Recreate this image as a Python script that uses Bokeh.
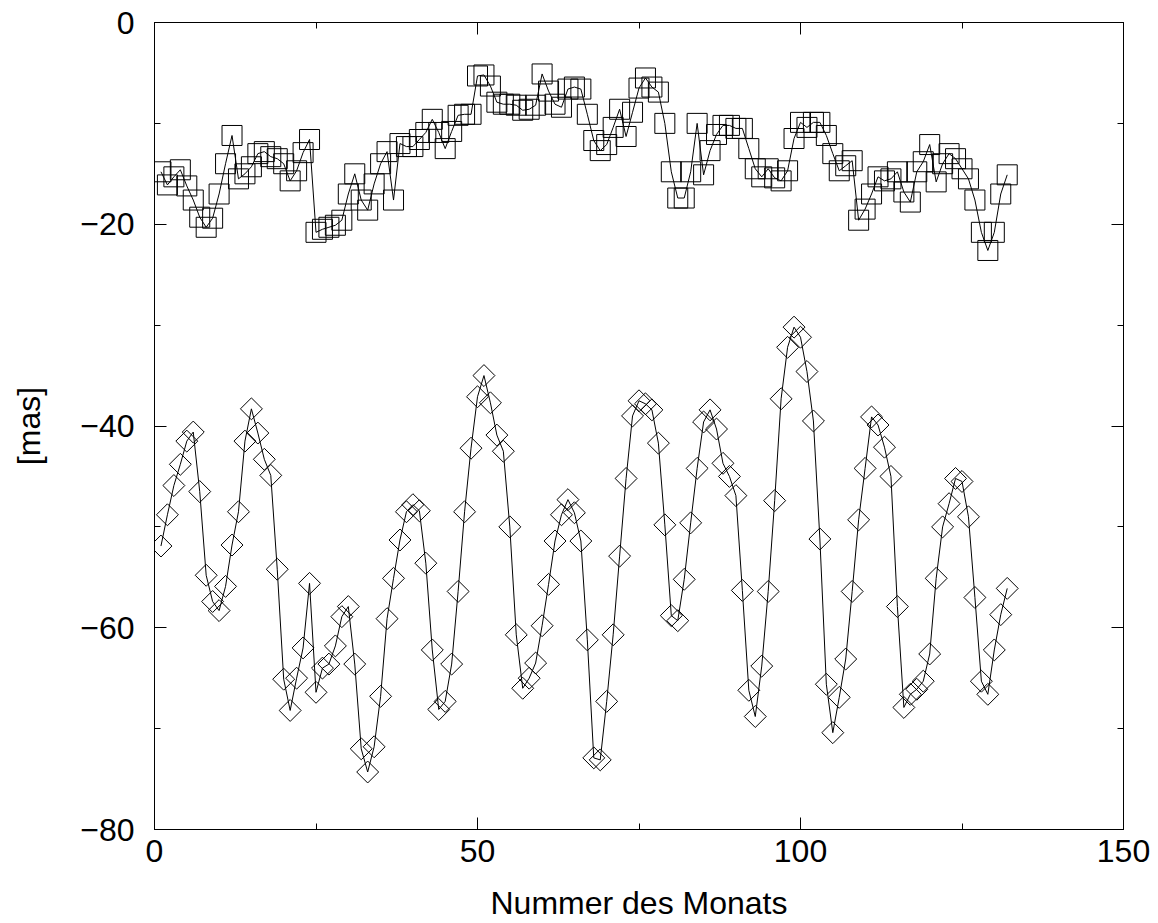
import math
from bokeh.plotting import figure
from bokeh.models import Range1d, FixedTicker, LinearAxis, CustomJSTickFormatter
from bokeh.embed import file_html
from bokeh.resources import INLINE

# ---------------- data ----------------
months = list(range(1, 133))

upper_series = [
    -14.8, -16.1, -15.3, -14.6, -16.2, -17.6, -19.3, -20.3, -19.4, -17.0,
    -14.0, -11.2, -15.5, -15.0, -14.3, -13.0, -12.8, -13.3, -13.5, -14.0,
    -15.7, -14.7, -12.9, -11.6, -20.8, -20.5, -20.3, -20.1, -19.6, -17.0,
    -15.0, -17.6, -18.6, -16.0, -14.0, -12.8, -17.6, -12.0, -12.3, -12.3,
    -11.6, -10.9, -9.6, -10.9, -12.5, -10.8, -9.2, -9.1, -9.1, -5.3,
    -5.2, -6.3, -7.9, -8.1, -8.1, -8.2, -8.7, -8.6, -8.2, -5.1,
    -6.8, -8.1, -8.4, -6.6, -6.4, -6.6, -9.1, -11.7, -12.7, -12.1,
    -10.4, -8.6, -11.3, -8.9, -6.5, -5.5, -6.4, -6.9, -10.0, -14.8,
    -17.4, -17.4, -14.8, -10.0, -15.1, -12.7, -11.1, -10.2, -10.2, -10.5,
    -10.5, -12.5, -14.5, -15.3, -14.5, -15.4, -15.7, -14.7, -11.5, -9.9,
    -10.4, -9.9, -9.9, -11.2, -13.0, -14.7, -14.2, -13.7, -19.6, -18.5,
    -17.0, -15.3, -15.7, -15.5, -14.8, -16.8, -17.8, -14.8, -13.8, -12.1,
    -15.8, -14.0, -13.0, -13.5, -14.5, -15.5, -17.6, -20.8, -22.6, -20.8,
    -17.0, -15.1,
]

lower_series = [
    -51.9, -48.8, -45.9, -43.8, -41.5, -40.6, -46.5, -54.8, -57.4, -58.3,
    -55.9, -51.8, -48.5, -41.5, -38.3, -40.7, -43.3, -44.9, -54.2, -65.1,
    -68.2, -65.0, -62.0, -55.6, -66.4, -64.0, -63.6, -61.8, -58.9, -57.9,
    -63.6, -72.0, -74.3, -71.8, -66.8, -59.1, -55.1, -51.3, -48.5, -47.8,
    -48.4, -53.6, -62.2, -68.1, -67.3, -63.6, -56.4, -48.5, -42.2, -37.1,
    -35.0, -37.7, -40.9, -42.5, -50.0, -60.7, -66.0, -65.0, -63.5, -59.8,
    -55.7, -51.4, -48.8, -47.3, -48.6, -51.4, -61.2, -72.9, -73.1, -67.3,
    -60.7, -52.9, -45.2, -39.0, -37.5, -37.8, -38.4, -41.7, -49.8, -58.8,
    -59.3, -55.2, -49.6, -44.2, -39.6, -38.4, -40.3, -43.7, -45.0, -46.9,
    -56.3, -66.2, -68.8, -63.8, -56.4, -47.4, -37.3, -32.2, -30.2, -31.2,
    -34.6, -39.5, -51.2, -65.6, -70.4, -66.9, -63.1, -56.4, -49.3, -44.2,
    -39.1, -39.9, -42.1, -45.0, -57.9, -67.9, -66.6, -66.1, -65.3, -62.6,
    -55.1, -50.0, -47.7, -45.2, -45.5, -49.0, -57.0, -65.3, -66.6, -62.2,
    -58.7, -56.1,
]

x_ticks = [0, 50, 100, 150]
x_minor_ticks = [25, 75, 125]
y_ticks = [-80, -60, -40, -20, 0]
y_minor_ticks = [-70, -50, -30, -10]
x_label = "Nummer des Monats"
y_label = "[mas]"

# ---------------- figure ----------------
FONT = "Liberation Sans"
FS = "32px"

p = figure(
    width=1158, height=923,
    output_backend="svg", toolbar_location=None,
    x_range=Range1d(0, 150), y_range=Range1d(-80, 0),
    min_border_left=154, min_border_right=35,
    min_border_top=22, min_border_bottom=94,
    x_axis_label=x_label, y_axis_label=y_label,
)
p.background_fill_color = "white"
p.border_fill_color = "white"
p.outline_line_color = "black"
p.outline_line_width = 1
p.xgrid.visible = False
p.ygrid.visible = False


def label_text(v):
    return ("\u2212" + str(abs(v))) if v < 0 else str(v)


def style_axis(ax, ticks, minor, show_labels):
    ax.ticker = FixedTicker(ticks=ticks, minor_ticks=minor)
    ax.axis_line_color = "black"
    ax.axis_line_width = 1
    ax.major_tick_line_color = "black"
    ax.minor_tick_line_color = "black"
    ax.major_tick_in = 12
    ax.major_tick_out = 0
    ax.minor_tick_in = 6
    ax.minor_tick_out = 0
    ax.major_label_text_font = FONT
    ax.major_label_text_font_size = FS
    ax.major_label_text_color = "black"
    ax.axis_label_text_font = FONT
    ax.axis_label_text_font_size = FS
    ax.axis_label_text_font_style = "normal"
    ax.axis_label_text_color = "black"
    if show_labels:
        ax.major_label_overrides = {v: label_text(v) for v in ticks}
    else:
        ax.formatter = CustomJSTickFormatter(code="return ''")
        ax.major_label_standoff = 0


xa = p.xaxis[0]
ya = p.yaxis[0]
style_axis(xa, x_ticks, x_minor_ticks, True)
style_axis(ya, y_ticks, y_minor_ticks, True)
xa.major_label_standoff = 10
xa.axis_label_standoff = 20
ya.major_label_standoff = 20
ya.axis_label_standoff = 30

top_ax = LinearAxis()
style_axis(top_ax, x_ticks, x_minor_ticks, False)
p.add_layout(top_ax, "above")
right_ax = LinearAxis()
style_axis(right_ax, y_ticks, y_minor_ticks, False)
p.add_layout(right_ax, "right")

# ---------------- series ----------------
p.line(months, upper_series, line_color="black", line_width=1)
p.scatter(months, upper_series, marker="square", size=20,
          fill_color=None, line_color="black", line_width=1)

p.line(months, lower_series, line_color="black", line_width=1)
p.scatter(months, lower_series, marker="square", angle=math.pi / 4, size=15.5,
          fill_color=None, line_color="black", line_width=1)

open("out.html", "w").write(file_html(p, INLINE))
